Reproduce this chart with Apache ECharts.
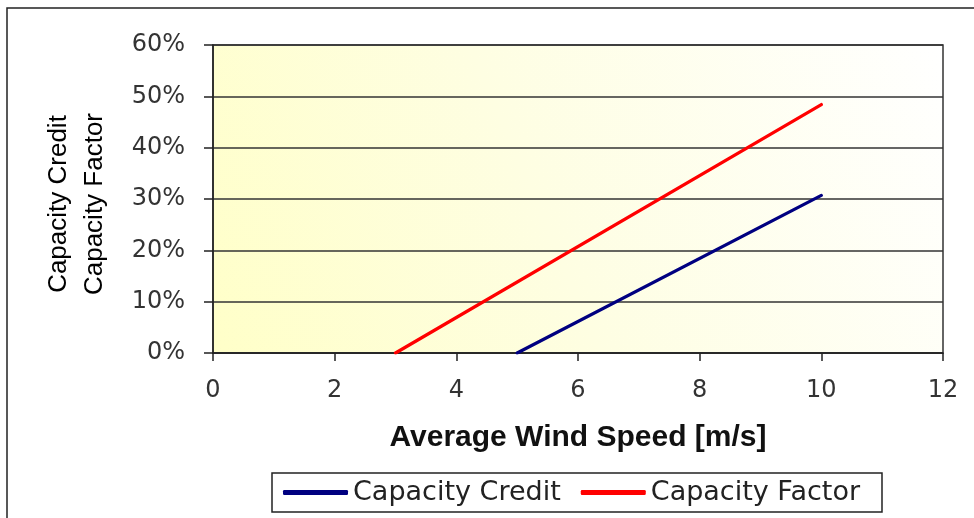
<!DOCTYPE html>
<html>
<head>
<meta charset="utf-8">
<title>Capacity Credit / Capacity Factor</title>
<script src="https://cdn.jsdelivr.net/npm/echarts@6/dist/echarts.min.js"></script>
<style>
    html,body{margin:0;padding:0;background:#fff;}
    #chart-main{width:974px;height:518px;}
</style>
</head>
<body>
<div id="chart-main"></div>
<script>
// 数据
var seriesNames = ['Capacity Credit', 'Capacity Factor'];
var creditSpeed = [5, 10];
var creditValue = [0, 30.7];
var factorSpeed = [3, 10];
var factorValue = [0, 48.4];
var xTicks = [0, 2, 4, 6, 8, 10, 12];
var yTicks = [0, 10, 20, 30, 40, 50, 60];

function toPairs(xs, ys) {
    var out = [];
    for (var i = 0; i < xs.length; i++) {
        out.push([xs[i], ys[i]]);
    }
    return out;
}

function drawChart(id) {
    var myChart = echarts.init(document.getElementById(id));
    var colors = ['#000080', '#ff0000'];
    var lines = [toPairs(creditSpeed, creditValue), toPairs(factorSpeed, factorValue)];

    var series = [];
    for (var i = 0; i < seriesNames.length; i++) {
        series.push({
            name: seriesNames[i],
            type: 'line',
            showSymbol: false,
            symbol: 'none',
            silent: true,
            lineStyle: {color: colors[i], width: 3.2, cap: 'round'},
            itemStyle: {color: colors[i]},
            data: lines[i]
        });
    }

    var option = {
        animation: false,
        textStyle: {fontFamily: 'DejaVu Sans'},
        graphic: [{
            type: 'rect',
            z: -10,
            shape: {x: 7, y: 8, width: 1200, height: 800},
            style: {fill: 'none', stroke: '#222', lineWidth: 1.5}
        }],
        legend: {
            data: seriesNames,
            left: 272,
            top: 473,
            padding: [6, 22, 6, 11],
            itemGap: 20,
            itemWidth: 65,
            itemHeight: 5,
            icon: 'roundRect',
            borderColor: '#222',
            borderWidth: 1.5,
            borderRadius: 0,
            textStyle: {fontFamily: 'DejaVu Sans', fontSize: 27, color: '#222'}
        },
        grid: {
            left: 213,
            right: 31,
            top: 45,
            bottom: 165,
            outerBoundsMode: 'none',
            containLabel: false,
            show: true,
            borderColor: '#333',
            borderWidth: 1.5,
            backgroundColor: new echarts.graphic.LinearGradient(0, 1, 1, 0, [
                {offset: 0, color: '#ffffc8'},
                {offset: 0.45, color: '#fefee2'},
                {offset: 1, color: '#ffffff'}
            ])
        },
        xAxis: {
            type: 'value',
            min: xTicks[0],
            max: xTicks[xTicks.length - 1],
            interval: xTicks[1] - xTicks[0],
            name: 'Average Wind Speed [m/s]',
            nameLocation: 'middle',
            nameGap: 70,
            nameTextStyle: {fontFamily: 'Liberation Sans', fontWeight: 'bold', fontSize: 30, color: '#111'},
            axisLine: {lineStyle: {color: '#222', width: 1.5}},
            axisTick: {show: true, inside: false, length: 8, lineStyle: {color: '#222', width: 1.5}},
            axisLabel: {fontSize: 24, color: '#333', margin: 26},
            splitLine: {show: false}
        },
        yAxis: {
            type: 'value',
            min: yTicks[0],
            max: yTicks[yTicks.length - 1],
            interval: yTicks[1] - yTicks[0],
            name: 'Capacity Credit\nCapacity Factor',
            nameLocation: 'middle',
            nameRotate: 90,
            nameGap: 100,
            nameTextStyle: {fontFamily: 'Liberation Sans', fontSize: 26, lineHeight: 36, color: '#000', padding: [0, 10, 0, 0]},
            axisLine: {show: true, lineStyle: {color: '#222', width: 1.5}},
            axisTick: {show: true, inside: false, length: 9, lineStyle: {color: '#222', width: 1.5}},
            axisLabel: {fontSize: 24, color: '#333', margin: 28, formatter: '{value}%'},
            splitLine: {show: true, lineStyle: {color: '#333', width: 1.5}}
        },
        series: series
    };

    myChart.setOption(option);
}

drawChart('chart-main');
</script>
</body>
</html>
